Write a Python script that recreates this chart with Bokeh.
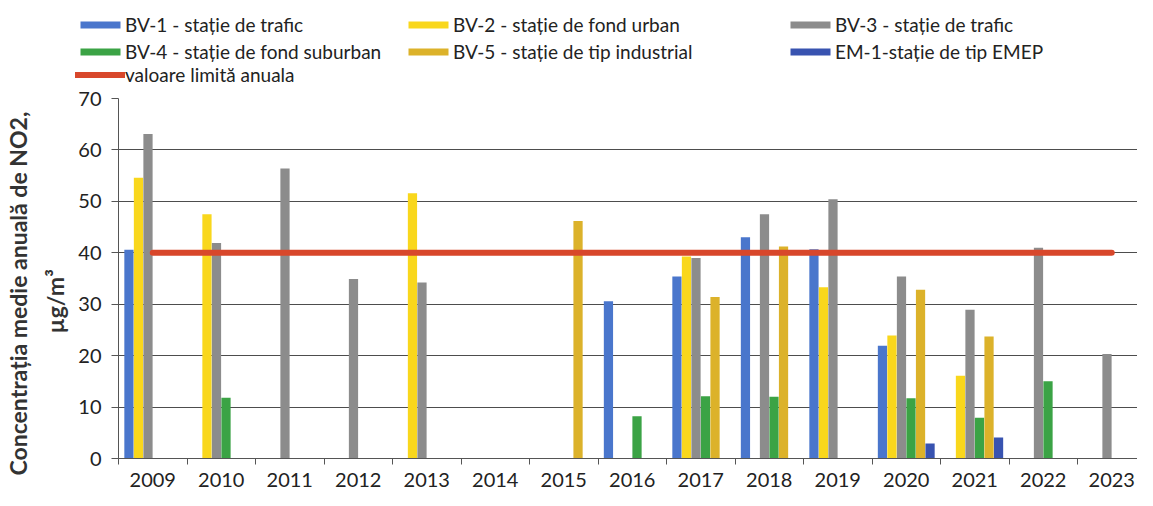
from bokeh.plotting import figure
from bokeh.models import Range1d, FixedTicker, Legend, LegendItem, Title, ColumnDataSource
from bokeh.transform import dodge
from bokeh.embed import file_html
from bokeh.resources import INLINE

# ---------------- data ----------------
years = [2009, 2010, 2011, 2012, 2013, 2014, 2015, 2016, 2017, 2018, 2019, 2020, 2021, 2022, 2023]
bv1 = [40.6, None, None, None, None, None, None, 30.6, 35.4, 43.0, 40.7, 21.9, None, None, None]
bv2 = [54.6, 47.5, None, None, 51.6, None, None, None, 39.3, None, 33.3, 23.9, 16.1, None, None]
bv3 = [63.1, 41.9, 56.4, 34.9, 34.2, None, None, None, 39.0, 47.5, 50.4, 35.4, 28.9, 41.0, 20.3]
bv4 = [None, 11.8, None, None, None, None, None, 8.2, 12.1, 12.0, None, 11.7, 7.9, 15.0, None]
bv5 = [None, None, None, None, None, None, 46.2, None, 31.4, 41.2, None, 32.8, 23.7, None, None]
em1 = [None, None, None, None, None, None, None, None, None, None, None, 2.9, 4.1, None, None]
limit = [40, 40, 40, 40, 40, 40, 40, 40, 40, 40, 40, 40, 40, 40, 40]

labels = [
    "BV-1 - stație de trafic",
    "BV-2 - stație de fond urban",
    "BV-3 - stație de trafic",
    "BV-4 - stație de fond suburban",
    "BV-5 - stație de tip industrial",
    "EM-1-stație de tip EMEP",
]
limit_label = "valoare limită anuala"
colors = ["#4a76cc", "#f9d71c", "#8c8c8c", "#3ba345", "#dcb22a", "#3853b0"]
limit_color = "#d8472b"
y_ticks = [0, 10, 20, 30, 40, 50, 60, 70]
y_title_1 = "Concentrația medie anuală de NO2,"
y_title_2 = "µg/m³"

FONT = "Lato"
TXT = "#222222"
W = 1137
LEG_H = 86
MAIN_H = 490 - LEG_H

series = [bv1, bv2, bv3, bv4, bv5, em1]
sources = []
for vals in series:
    xs = [y for y, v in zip(years, vals) if v is not None]
    vs = [v for v in vals if v is not None]
    sources.append(ColumnDataSource(dict(year=xs, val=vs)))
line_src = ColumnDataSource(dict(year=years, val=limit))

# ---------------- main chart ----------------
x_range = Range1d(2008.5, 2008.5 + (W - 118) / 68.5)
p = figure(width=W, height=MAIN_H, output_backend="svg", toolbar_location=None, title=None,
           x_range=x_range, y_range=Range1d(0, 70),
           min_border_left=118, min_border_top=12, min_border_bottom=32, min_border_right=0)
p.outline_line_color = None

bw = 0.139
for i, (src, col) in enumerate(zip(sources, colors)):
    p.vbar(x=dodge("year", (i - 2.5) * bw, range=p.x_range), top="val", bottom=0,
           width=bw * 0.97, source=src, fill_color=col, line_color=None)

p.line("year", "val", source=line_src, line_width=6, line_color=limit_color, line_cap="round")

p.xaxis.ticker = FixedTicker(ticks=years, minor_ticks=[y - 0.5 for y in years] + [years[-1] + 0.5])
p.xaxis.major_tick_out = 0
p.xaxis.major_tick_in = 0
p.xaxis.minor_tick_out = 6
p.xaxis.minor_tick_in = 0
p.xaxis.minor_tick_line_color = "#555555"
p.xaxis.axis_line_color = "#555555"
p.xaxis.major_label_standoff = 8
p.xaxis.major_label_text_font = FONT
p.xaxis.major_label_text_font_size = "20px"
p.xaxis.major_label_text_color = TXT

p.yaxis.ticker = FixedTicker(ticks=y_ticks)
p.yaxis.major_tick_out = 7
p.yaxis.major_tick_in = 0
p.yaxis.minor_tick_line_color = None
p.yaxis.major_tick_line_color = "#555555"
p.yaxis.axis_line_color = "#555555"
p.yaxis.major_label_standoff = 10
p.yaxis.major_label_text_font = FONT
p.yaxis.major_label_text_font_size = "20px"
p.yaxis.major_label_text_color = TXT

p.xgrid.visible = False
p.ygrid.ticker = FixedTicker(ticks=y_ticks)
p.ygrid.grid_line_color = "#4d4d4d"
p.ygrid.grid_line_width = 1.2

p.add_layout(Title(text=y_title_2, align="left", text_font=FONT, text_font_size="23px",
                   text_font_style="bold", text_color="#333333", standoff=13, offset=125), "left")
p.add_layout(Title(text=y_title_1, align="left", text_font=FONT, text_font_size="23px",
                   text_font_style="bold", text_color="#333333", standoff=2, offset=-17), "left")

# ---------------- legend strip (its own figure, same series) ----------------
lf = figure(width=W, height=LEG_H, output_backend="svg", toolbar_location=None, title=None,
            x_range=x_range, y_range=Range1d(-2, -1),
            min_border=0, min_border_left=0, min_border_right=0, min_border_top=0, min_border_bottom=0)
lf.axis.visible = False
lf.grid.visible = False
lf.outline_line_color = None

lrs = []
for i, (src, col) in enumerate(zip(sources, colors)):
    lrs.append(lf.vbar(x="year", top="val", bottom=0, width=0, source=src,
                       fill_color=col, line_color=None))
lline = lf.line("year", "val", source=line_src, line_width=6, line_color=limit_color, line_cap="round")

def mk_legend(items, loc):
    lg = Legend(items=items, location=loc, orientation="vertical",
                label_text_font=FONT, label_text_font_size="19px", label_text_color=TXT,
                glyph_width=50, glyph_height=9, label_standoff=0, label_height=20,
                spacing=4, padding=0, margin=0, border_line_color=None,
                background_fill_alpha=0)
    lf.add_layout(lg, "center")

mk_legend([LegendItem(label=labels[0], renderers=[lrs[0]]),
           LegendItem(label=labels[3], renderers=[lrs[3]])], (75, 23))
mk_legend([LegendItem(label=limit_label, renderers=[lline])], (75, 0))
mk_legend([LegendItem(label=labels[1], renderers=[lrs[1]]),
           LegendItem(label=labels[4], renderers=[lrs[4]])], (403, 23))
mk_legend([LegendItem(label=labels[2], renderers=[lrs[2]]),
           LegendItem(label=labels[5], renderers=[lrs[5]])], (785, 23))

open("out.html", "w").write(file_html([lf, p], INLINE))
